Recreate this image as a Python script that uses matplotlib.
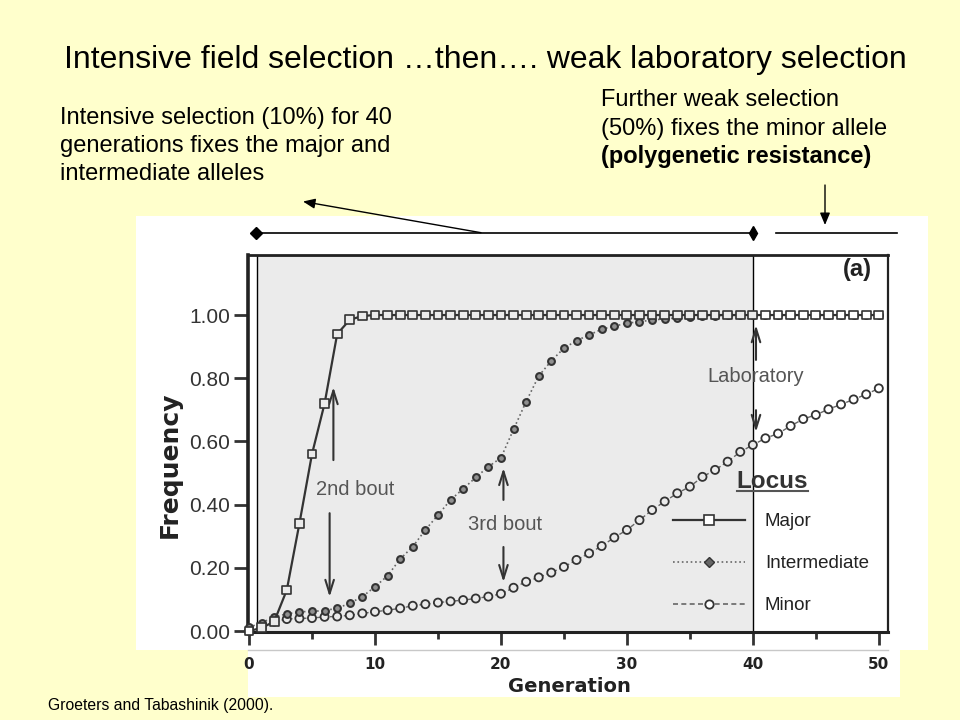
import matplotlib
matplotlib.use("Agg")
import matplotlib.pyplot as plt
from matplotlib.lines import Line2D
from matplotlib.patches import Rectangle
from matplotlib import font_manager

# ---------------- data ----------------
generation = list(range(51))
major = [0.0, 0.01, 0.03, 0.13, 0.34, 0.56, 0.72, 0.94, 0.985, 0.997] + [1.0] * 41
intermediate = [0.012, 0.026, 0.045, 0.054, 0.061, 0.062, 0.065, 0.072, 0.088, 0.109,
                0.14, 0.175, 0.228, 0.267, 0.32, 0.367, 0.415, 0.45, 0.486, 0.52,
                0.548, 0.638, 0.726, 0.807, 0.855, 0.895, 0.919, 0.937, 0.955, 0.965,
                0.974, 0.979, 0.984, 0.988, 0.991, 0.994, 0.996, 0.998, 0.999, 1.0,
                1.0, 1.0, 1.0, 1.0, 1.0, 1.0, 1.0, 1.0, 1.0, 1.0, 1.0]
minor = [0.0, 0.008, 0.03, 0.038, 0.04, 0.041, 0.045, 0.046, 0.05, 0.056,
         0.061, 0.066, 0.072, 0.08, 0.085, 0.09, 0.094, 0.098, 0.103, 0.109,
         0.118, 0.137, 0.156, 0.17, 0.185, 0.203, 0.225, 0.246, 0.269, 0.296,
         0.32, 0.351, 0.383, 0.41, 0.436, 0.457, 0.488, 0.51, 0.536, 0.567,
         0.589, 0.61, 0.625, 0.649, 0.671, 0.684, 0.702, 0.717, 0.733, 0.749, 0.768]
series_labels = ["Major", "Intermediate", "Minor"]
yticks = [0.0, 0.2, 0.4, 0.6, 0.8, 1.0]
ytick_labels = ["0.00", "0.20", "0.40", "0.60", "0.80", "1.00"]
xticks = [0, 10, 20, 30, 40, 50]
xticks_minor = [5, 15, 25, 35, 45]
field_end = 40

title = "Intensive field selection \u2026then\u2026. weak laboratory selection"
left_note = ["Intensive selection (10%) for 40",
             "generations fixes the major and",
             "intermediate alleles"]
right_note = ["Further weak selection",
              "(50%) fixes the minor allele",
              "(polygenetic resistance)"]
footnote = "Groeters and Tabashinik (2000)."

# ---------------- fonts ----------------
names = {f.name for f in font_manager.fontManager.ttflist}
SANS = "Liberation Sans"
NARROW = "Liberation Sans Narrow" if "Liberation Sans Narrow" in names else SANS
BOLDW = "DejaVu Sans"

W, H = 960, 720
fig = plt.figure(figsize=(9.6, 7.2), dpi=100, facecolor="#FFFFCC")


def P(x, y):
    return (x / W, 1 - y / H)


# white "scanned figure" panels
fig.add_artist(Rectangle(P(136, 650), (928 - 136) / W, (650 - 216) / H,
                         transform=fig.transFigure, fc="white", ec="none", zorder=-2))
fig.add_artist(Rectangle(P(248, 697), (900 - 248) / W, (697 - 650) / H,
                         transform=fig.transFigure, fc="white", ec="none", zorder=-2))
fig.add_artist(Line2D([248 / W, 888 / W], [1 - 650 / H] * 2, transform=fig.transFigure,
                      color="#C8C8C8", lw=1, zorder=-1))

ax = fig.add_axes([248 / W, 1 - 632 / H, 640 / W, 377 / H])
ax.set_facecolor("white")
ax.set_xlim(-0.08, 50.73)
ax.set_ylim(-0.003, 1.19)

# shaded field-selection period
ax.axvspan(0.64, field_end, fc="#EBEBEB", ec="black", lw=1.0, zorder=0.5)

fc_open = ["#EBEBEB" if 0.64 <= g <= field_end else "white" for g in generation]

ax.plot(generation, minor, ls=(0, (3, 2)), color="#666666", lw=1.0, zorder=2)
ax.scatter(generation, minor, marker="o", s=34, facecolors=fc_open, edgecolors="#333333",
           linewidths=1.3, zorder=2.5, clip_on=False)
ax.plot(generation, intermediate, ls=":", color="#666666", lw=1.2, zorder=3)
ax.scatter(generation, intermediate, marker="o", s=24, facecolors="#909090",
           edgecolors="#333333", linewidths=1.5, zorder=3.5, clip_on=False)
ax.plot(generation, major, ls="-", color="#333333", lw=1.6, zorder=4)
ax.scatter(generation, major, marker="s", s=40, facecolors=fc_open, edgecolors="#333333",
           linewidths=1.2, zorder=4.5, clip_on=False)

# axes styling
for side, lw in (("left", 2.6), ("bottom", 2.2), ("top", 2.0), ("right", 1.6)):
    ax.spines[side].set_linewidth(lw)
    ax.spines[side].set_color("#222222")
ax.set_xticks(xticks)
ax.set_xticks(xticks_minor, minor=True)
ax.set_yticks(yticks)
ax.set_yticklabels(ytick_labels)
ax.tick_params(axis="x", which="major", direction="out", length=9, width=2,
               color="#333333", pad=9, labelsize=11, labelcolor="#222222")
ax.tick_params(axis="x", which="minor", direction="out", length=5, width=2, color="#333333")
ax.tick_params(axis="y", which="major", direction="out", length=10, width=2,
               color="#333333", pad=3, labelsize=15, labelcolor="#333333")
for lbl in ax.get_xticklabels():
    lbl.set_fontfamily(BOLDW)
    lbl.set_fontweight("bold")
for lbl in ax.get_yticklabels():
    lbl.set_fontfamily(SANS)

fig.text(*P(170, 465), "Frequency", rotation=90, fontsize=18, fontweight="bold",
         family=BOLDW, ha="center", va="center", color="#222222")
fig.text(*P(569, 686), "Generation", fontsize=14, fontweight="bold",
         family=BOLDW, ha="center", va="center", color="#222222")

# in-plot annotations
ann_kw = dict(fontsize=14.5, family=SANS, color="#555555")
ax.text(8.45, 0.43, "2nd bout", ha="center", va="baseline", **ann_kw)
ax.text(20.3, 0.32, "3rd bout", ha="center", va="baseline", **ann_kw)
ax.text(40.2, 0.787, "Laboratory", ha="center", va="baseline", **ann_kw)
ax.text(48.3, 1.124, "(a)", ha="center", va="baseline", fontsize=17, fontweight="bold",
        family=SANS, color="#222222")

arr = dict(arrowstyle="->,head_length=0.7,head_width=0.22", lw=1.5, color="#333333",
           shrinkA=0, shrinkB=0, mutation_scale=14)
for x0, y0, y1 in ((6.7, 0.541, 0.772), (6.4, 0.373, 0.108),
                   (20.2, 0.415, 0.516), (20.2, 0.266, 0.155),
                   (40.25, 0.858, 0.968), (40.25, 0.699, 0.63)):
    ax.annotate("", xy=(x0, y1), xytext=(x0, y0), arrowprops=arr, annotation_clip=False)

# legend
handles = [
    Line2D([], [], color="#333333", lw=1.6, marker="s", ms=6.5, mfc="white", mec="#333333", mew=1.2),
    Line2D([], [], color="#666666", lw=1.2, ls=":", marker="D", ms=5, mfc="#666666", mec="#333333"),
    Line2D([], [], color="#666666", lw=1.2, ls=(0, (3, 2)), marker="o", ms=6, mfc="white", mec="#333333", mew=1.3),
]
leg_size = 15.5 if NARROW != SANS else 13.5
fs_px = leg_size * 100 / 72
leg = ax.legend(handles, series_labels, loc="upper left", bbox_to_anchor=P(673, 513),
                bbox_transform=fig.transFigure, frameon=False,
                handlelength=72 / fs_px, handletextpad=20 / fs_px,
                labelspacing=1.33, borderpad=0, borderaxespad=0,
                numpoints=1, prop={"family": NARROW, "size": leg_size})
for t in leg.get_texts():
    t.set_color("#222222")
ax.text(38.73, 0.4516, "Locus", ha="left", va="baseline", fontsize=17.5, fontweight="bold",
        family=SANS, color="#333333")
ax.plot([38.73, 44.37], [0.443, 0.443], color="#555555", lw=1.5, clip_on=False, zorder=5)

# ---------------- slide texts ----------------
renderer = fig.canvas.get_renderer()


def fit(texts, idx, target):
    w = texts[idx].get_window_extent(renderer).width
    for t in texts:
        t.set_fontsize(t.get_fontsize() * target / w)


t_title = fig.text(*P(64, 68.3), title, ha="left", va="baseline", fontsize=21.7,
                   family=SANS, color="black")
fit([t_title], 0, 840)

lt = [fig.text(*P(59.5, 124.3 + 28 * i), s, ha="left", va="baseline", fontsize=16.5,
               family=SANS, color="black") for i, s in enumerate(left_note)]
fit(lt, 0, 330.5)

rt = [fig.text(*P(601, 106 + 28.5 * i), s, ha="left", va="baseline", fontsize=16.5,
               family=SANS, color="black", fontweight=("bold" if i == 2 else "normal"))
      for i, s in enumerate(right_note)]
fit(rt, 1, 285.5)

fn = fig.text(*P(48, 710), footnote, ha="left", va="baseline", fontsize=9.5,
              family=SANS, color="black")
fit([fn], 0, 224)

# range bars and arrows on the slide
yb = 1 - 232.7 / H
fig.add_artist(Line2D([256 / W, 752.7 / W], [yb, yb], transform=fig.transFigure,
                      color="black", lw=1.2))
fig.add_artist(Line2D([256 / W], [yb], transform=fig.transFigure, ls="none",
                      marker="D", ms=6.5, color="black"))
fig.add_artist(Line2D([752.7 / W], [yb], transform=fig.transFigure, ls="none",
                      marker="d", ms=7.5, color="black"))
fig.add_artist(Line2D([776 / W, 896.7 / W], [yb, yb], transform=fig.transFigure,
                      color="black", lw=1.2))
slide_arr = dict(arrowstyle="-|>,head_length=0.6,head_width=0.25", lw=1.0, color="black",
                 shrinkA=0, shrinkB=0, mutation_scale=12)
ax.annotate("", xy=P(303, 201.5), xytext=P(481, 232.7), xycoords="figure fraction",
            textcoords="figure fraction", arrowprops=slide_arr, annotation_clip=False)
ax.annotate("", xy=P(825, 225), xytext=P(825, 185), xycoords="figure fraction",
            textcoords="figure fraction", arrowprops=slide_arr, annotation_clip=False)

fig.savefig("out.png", dpi=100, facecolor=fig.get_facecolor())
